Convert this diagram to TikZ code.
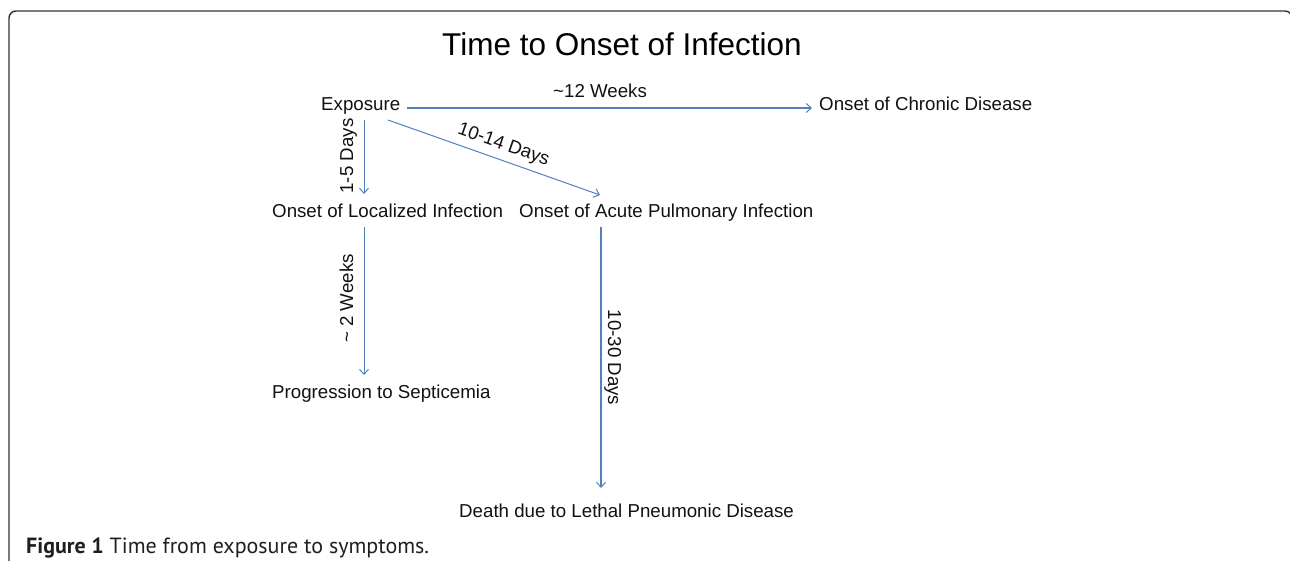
\documentclass[tikz,border=0pt]{standalone}
\usepackage{fontspec}
\setmainfont{Liberation Sans}
\newfontfamily\capfont{PT Sans}
\usetikzlibrary{arrows.meta}
\definecolor{arrowblue}{RGB}{79,129,189}
\definecolor{framegray}{RGB}{50,50,50}
\definecolor{textblack}{RGB}{17,17,17}
\begin{document}
\begin{tikzpicture}[x=1pt,y=-1pt,
  txt/.style={inner sep=0pt, anchor=base west, text=textblack, font=\fontsize{18.7}{22}\selectfont},
  lbl/.style={inner sep=0pt, text=textblack, font=\fontsize{18.7}{22}\selectfont},
  conn/.style={draw=arrowblue, line width=1pt, -{Straight Barb[length=5pt,width=9pt,line width=1pt]}},
  thickconn/.style={conn, line width=1.6pt},
]
\useasboundingbox (0,0) rectangle (1290,560);
\draw[framegray, line width=1.4pt, rounded corners=7pt] (9,575) -- (9,11) -- (1292,11) -- (1292,575);

\node[inner sep=0pt, anchor=base west, text=black, font=\fontsize{31.5}{36}\selectfont] (title) at (442,55) {Time to Onset of Infection};
\node[txt] (exp) at (321,110) {Exposure};
\node[txt] (chronic) at (819,110) {Onset of Chronic Disease};
\node[txt] (local) at (272,217) {Onset of Localized Infection};
\node[txt] (acute) at (519,217) {Onset of Acute Pulmonary Infection};
\node[txt] (septic) at (272,398) {Progression to Septicemia};
\node[txt] (death) at (459,517) {Death due to Lethal Pneumonic Disease};
\node[inner sep=0pt, anchor=base west, text=black!88, font=\capfont\fontsize{22}{26}\selectfont] (caption) at (26,553) {\textbf{Figure 1} Time from exposure to symptoms.};

\draw[conn, line width=1.3pt] ([shift={(86,-2)}]exp.base west) -- ([shift={(-7,-2)}]chronic.base west);
\draw[conn] ([shift={(43,10)}]exp.base west) -- ([shift={(92,-23)}]local.base west);
\draw[conn] ([shift={(67,10)}]exp.base west) -- ([shift={(81,-22)}]acute.base west);
\draw[conn] ([shift={(92,10)}]local.base west) -- ([shift={(92,-23)}]septic.base west);
\draw[thickconn] ([shift={(82,10)}]acute.base west) -- ([shift={(142,-29)}]death.base west);

\node[lbl, anchor=base west] (w12) at (553,97) {\textasciitilde12 Weeks};
\node[lbl, anchor=base, rotate=90] (d15) at (353,156) {1-5 Days};
\node[lbl, anchor=base, rotate=-19.5] (d1014) at (502,149.5) {10-14 Days};
\node[lbl, anchor=base, rotate=90] (w2) at (353,298.5) {\textasciitilde{} 2 Weeks};
\node[lbl, anchor=base, rotate=-90] (d1030) at (608,357.5) {10-30 Days};
\end{tikzpicture}
\end{document}
